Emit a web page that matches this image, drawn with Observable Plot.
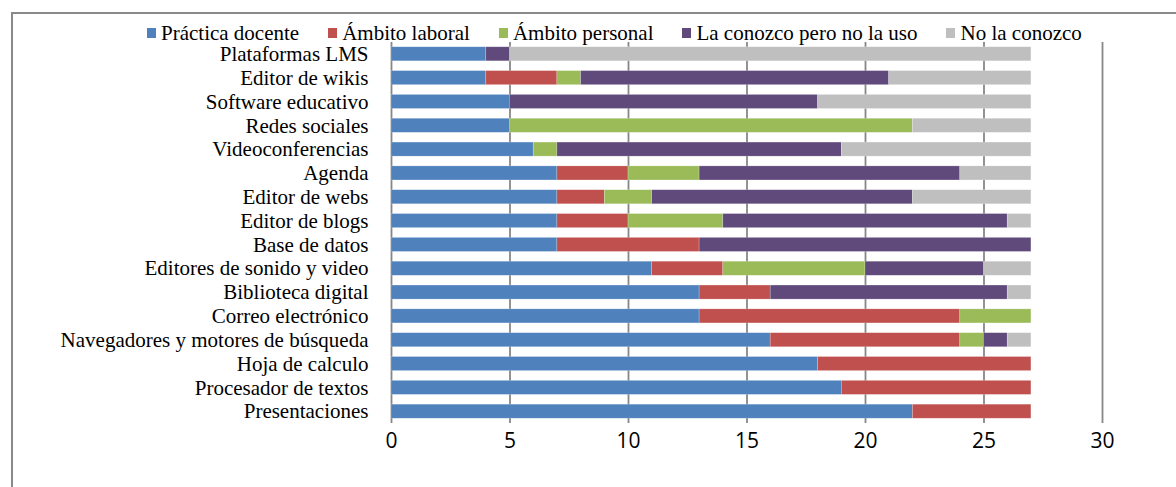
<!DOCTYPE html>
<html>
<head>
<meta charset="utf-8">
<script src="https://cdn.jsdelivr.net/npm/d3@7"></script>
<script src="https://cdn.jsdelivr.net/npm/@observablehq/plot@0.6"></script>
<style>
  html, body { margin: 0; padding: 0; background: #fff; overflow: hidden; }
  #wrap { position: relative; width: 1176px; height: 487px; overflow: hidden; }
  #frame { position: absolute; left: 11px; top: 12px; width: 1300px; height: 600px;
           border-top: 2px solid #8a8a8a; border-left: 2px solid #8a8a8a; box-sizing: border-box; }
  #chart { position: absolute; left: 0; top: 0; }
  #legend { position: absolute; left: 147px; top: 21px; display: flex; align-items: center;
            font-family: "Liberation Serif", "Times New Roman", serif; font-size: 21px; color: #000;
            white-space: nowrap; line-height: 24px; }
  .item { display: flex; align-items: center; margin-right: 29px; }
  .item:last-child { margin-right: 0; }
  .sw { width: 9px; height: 10px; margin-right: 5px; display: inline-block; }
</style>
</head>
<body>
<div id="wrap">
  <div id="frame"></div>
  <div id="chart"></div>
  <div id="legend"></div>
</div>
<script>
const categories = [
  "Plataformas LMS", "Editor de wikis", "Software educativo", "Redes sociales",
  "Videoconferencias", "Agenda", "Editor de webs", "Editor de blogs", "Base de datos",
  "Editores de sonido y video", "Biblioteca digital", "Correo electrónico",
  "Navegadores y motores de búsqueda", "Hoja de calculo", "Procesador de textos", "Presentaciones"
];
const seriesNames = ["Práctica docente", "Ámbito laboral", "Ámbito personal", "La conozco pero no la uso", "No la conozco"];
const seriesColors = ["#4F81BD", "#C0504D", "#9BBB59", "#604A7B", "#BFBFBF"];

const practicaDocente = [4, 4, 5, 5, 6, 7, 7, 7, 7, 11, 13, 13, 16, 18, 19, 22];
const ambitoLaboral   = [0, 3, 0, 0, 0, 3, 2, 3, 6, 3, 3, 11, 8, 9, 8, 5];
const ambitoPersonal  = [0, 1, 0, 17, 1, 3, 2, 4, 0, 6, 0, 3, 1, 0, 0, 0];
const laConozcoNoUso  = [1, 13, 13, 0, 12, 11, 11, 12, 14, 5, 10, 0, 1, 0, 0, 0];
const noLaConozco     = [22, 6, 9, 5, 8, 3, 5, 1, 0, 2, 1, 0, 1, 0, 0, 0];
const xTicks = [0, 5, 10, 15, 20, 25, 30];

const seriesValues = [practicaDocente, ambitoLaboral, ambitoPersonal, laConozcoNoUso, noLaConozco];
const rows = [];
seriesNames.forEach((s, si) => {
  categories.forEach((c, ci) => {
    rows.push({category: c, series: s, value: seriesValues[si][ci]});
  });
});

const chart = Plot.plot({
  width: 1176,
  height: 487,
  marginLeft: 391,
  marginRight: 74,
  marginTop: 42,
  marginBottom: 64,
  style: {background: "transparent", color: "#000"},
  x: {domain: [0, 30], ticks: xTicks},
  y: {type: "band", domain: categories, padding: 0.41, range: [37, 428], round: false},
  color: {domain: seriesNames, range: seriesColors},
  marks: [
    Plot.ruleX(xTicks, {stroke: "#878787", strokeWidth: 1.8}),
    Plot.barX(rows.filter(d => d.value > 0), Plot.stackX({
      x: "value", y: "category", fill: "series", z: "series", order: seriesNames,
      stroke: "#ffffff", strokeOpacity: 0.35, strokeWidth: 0.6
    })),
    Plot.axisX({ticks: xTicks, tickSize: 0, tickPadding: 10, fontSize: 21,
                fontFamily: "Open Sans", label: null}),
    Plot.axisY({tickSize: 0, tickPadding: 23, fontSize: 21,
                fontFamily: "Liberation Serif", label: null})
  ]
});
document.getElementById("chart").appendChild(chart);

const legend = document.getElementById("legend");
seriesNames.forEach((s, i) => {
  const item = document.createElement("span");
  item.className = "item";
  const sw = document.createElement("span");
  sw.className = "sw";
  sw.style.background = seriesColors[i];
  item.appendChild(sw);
  item.appendChild(document.createTextNode(s));
  legend.appendChild(item);
});
</script>
</body>
</html>
